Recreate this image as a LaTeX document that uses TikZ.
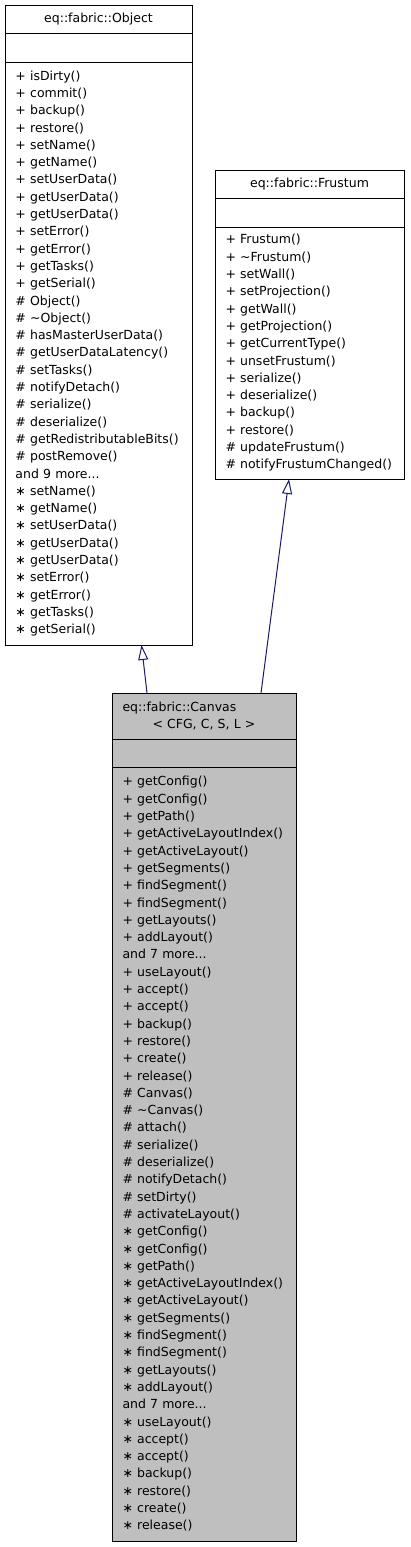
\documentclass[tikz,border=0pt]{standalone}
\usepackage{fontspec}
\setmainfont{DejaVu Sans}
\usetikzlibrary{positioning, arrows.meta}
\definecolor{edgeblue}{HTML}{191970}
\definecolor{classgray}{HTML}{BFBFBF}

\begin{document}
\begin{tikzpicture}[
    x = 1pt, y = -1pt,
    every node/.style = {font = \fontsize{12.5}{17.3}\selectfont},
    part/.style       = {draw, line width = 1pt, outer sep = 0pt, inner ysep = 0pt, inner xsep = 10.5pt, minimum height = 28pt},
    objpart/.style    = {part, text width = 166pt},
    frupart/.style    = {part, text width = 168pt},
    canpart/.style    = {part, text width = 163pt, fill = classgray},
    inherit/.style    = {-{Triangle[open, length = 15pt, width = 10pt]}, line width = 1pt, edgeblue},
]

\useasboundingbox (0,0) rectangle (411,1547);

% ---------- base class: eq::fabric::Object ----------
\node[objpart, align = center] (objtitle) at (98.5, 19) {eq::fabric::Object};
\node[objpart, minimum height = 29pt, below = 0pt of objtitle] (objattr) {};
\node[objpart, align = left, minimum height = 583pt, below = 0pt of objattr] (objops) {%
+ isDirty()\\+ commit()\\+ backup()\\+ restore()\\+ setName()\\+ getName()\\%
+ setUserData()\\+ getUserData()\\+ getUserData()\\+ setError()\\+ getError()\\%
+ getTasks()\\+ getSerial()\\\# Object()\\\# \textasciitilde Object()\\%
\# hasMasterUserData()\\\# getUserDataLatency()\\\# setTasks()\\\# notifyDetach()\\%
\# serialize()\\\# deserialize()\\\# getRedistributableBits()\\\# postRemove()\\%
and 9 more...\\∗ setName()\\∗ getName()\\∗ setUserData()\\∗ getUserData()\\%
∗ getUserData()\\∗ setError()\\∗ getError()\\∗ getTasks()\\∗ getSerial()};

% ---------- base class: eq::fabric::Frustum ----------
\node[frupart, align = center] (frutitle) at (309.5, 184) {eq::fabric::Frustum};
\node[frupart, minimum height = 29pt, below = 0pt of frutitle] (fruattr) {};
\node[frupart, align = left, minimum height = 252pt, below = 0pt of fruattr] (fruops) {%
+ Frustum()\\+ \textasciitilde Frustum()\\+ setWall()\\+ setProjection()\\+ getWall()\\%
+ getProjection()\\+ getCurrentType()\\+ unsetFrustum()\\+ serialize()\\%
+ deserialize()\\+ backup()\\+ restore()\\\# updateFrustum()\\\# notifyFrustumChanged()};

% ---------- derived class: eq::fabric::Canvas ----------
\node[canpart, align = left, minimum height = 46pt] (cantitle) at (204, 716) {%
eq::fabric::Canvas\\\hspace*{30pt}< CFG, C, S, L >};
\node[canpart, below = 0pt of cantitle] (canattr) {};
\node[canpart, align = left, minimum height = 774pt, below = 0pt of canattr] (canops) {%
+ getConfig()\\+ getConfig()\\+ getPath()\\+ getActiveLayoutIndex()\\%
+ getActiveLayout()\\+ getSegments()\\+ findSegment()\\+ findSegment()\\%
+ getLayouts()\\+ addLayout()\\and 7 more...\\+ useLayout()\\+ accept()\\%
+ accept()\\+ backup()\\+ restore()\\+ create()\\+ release()\\\# Canvas()\\%
\# \textasciitilde Canvas()\\\# attach()\\\# serialize()\\\# deserialize()\\%
\# notifyDetach()\\\# setDirty()\\\# activateLayout()\\∗ getConfig()\\%
∗ getConfig()\\∗ getPath()\\∗ getActiveLayoutIndex()\\∗ getActiveLayout()\\%
∗ getSegments()\\∗ findSegment()\\∗ findSegment()\\∗ getLayouts()\\%
∗ addLayout()\\and 7 more...\\∗ useLayout()\\∗ accept()\\∗ accept()\\%
∗ backup()\\∗ restore()\\∗ create()\\∗ release()};

% ---------- inheritance ----------
\draw[inherit] ([xshift = -57pt]cantitle.north) -- ([xshift = 43pt]objops.south);
\draw[inherit] ([xshift = 57pt]cantitle.north) -- ([xshift = -20.5pt]fruops.south);

\end{tikzpicture}
\end{document}
